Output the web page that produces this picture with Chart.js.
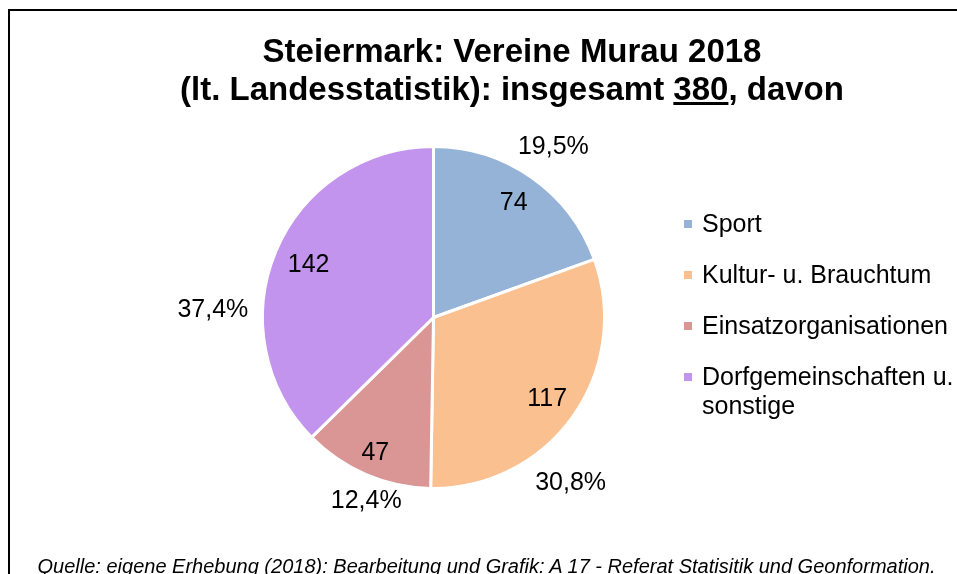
<!DOCTYPE html>
<html>
<head>
<meta charset="utf-8">
<script src="https://cdn.jsdelivr.net/npm/chart.js@4.4.0/dist/chart.umd.min.js"></script>
<style>
  body { margin: 0; background: #fff; font-family: "Liberation Sans", Arial, sans-serif; }
  #wrap { position: relative; width: 957px; height: 574px; overflow: hidden; background: #fff; }
  #frame { position: absolute; left: 8px; top: 9px; width: 1000px; height: 700px; border: 2px solid #000; box-sizing: border-box; }
  #title { position: absolute; left: 12px; width: 1000px; top: 32px; text-align: center; font-weight: bold; font-size: 33px; line-height: 38px; color: #000; }
  #legend { position: absolute; left: 684px; top: 209px; font-size: 25px; line-height: 29px; color: #000; }
  .item { position: relative; padding-left: 18px; margin-bottom: 22px; white-space: nowrap; }
  .box { position: absolute; left: 0; top: 11px; width: 8px; height: 8px; }
  #note { position: absolute; left: 0; width: 973px; top: 556px; text-align: center; font-style: italic; font-size: 20px; line-height: 20px; color: #000; white-space: nowrap; }
  canvas { position: absolute; left: 0; top: 0; }
</style>
</head>
<body>
<div id="wrap">
  <div id="frame"></div>
  <canvas id="chart" width="957" height="574"></canvas>
  <div id="title">Steiermark: Vereine Murau 2018<br>(lt. Landesstatistik): insgesamt <u>380</u>, davon</div>
  <div id="legend"></div>
  <div id="note">Quelle: eigene Erhebung (2018): Bearbeitung und Grafik: A 17 - Referat Statisitik und Geonformation.</div>
</div>
<script>
const categories = ["Sport", "Kultur- u. Brauchtum", "Einsatzorganisationen", ["Dorfgemeinschaften u.", "sonstige"]];
const vereine = [74, 117, 47, 142];
const colors = ["#95B3D7", "#FAC090", "#D99694", "#C394EE"];

const total = vereine.reduce((a, b) => a + b, 0);

// html legend
const legendEl = document.getElementById("legend");
categories.forEach((cat, i) => {
  const item = document.createElement("div");
  item.className = "item";
  const box = document.createElement("span");
  box.className = "box";
  box.style.background = colors[i];
  item.appendChild(box);
  const txt = document.createElement("span");
  txt.innerHTML = Array.isArray(cat) ? cat.join("<br>") : cat;
  item.appendChild(txt);
  legendEl.appendChild(item);
});

// value labels inside, percentages outside (excel placed some by hand)
const valueRadius = [0.81, 0.81, 0.855, 0.785];
const pctShift = [0, 14.8, -3.1, -20.8];   // degrees
const pctRadius = [1.21, 1.245, 1.135, 1.28];

const pieLabels = {
  id: "pieLabels",
  afterDatasetsDraw(chart) {
    const ctx = chart.ctx;
    const meta = chart.getDatasetMeta(0);
    ctx.save();
    ctx.fillStyle = "#000";
    ctx.font = '25px "Liberation Sans", Arial, sans-serif';
    ctx.textAlign = "center";
    ctx.textBaseline = "middle";
    meta.data.forEach((arc, i) => {
      const p = arc.getProps(["x", "y", "startAngle", "endAngle", "outerRadius"], true);
      const r = p.outerRadius + 1.5;
      const mid = (p.startAngle + p.endAngle) / 2;
      ctx.fillText(String(vereine[i]), p.x + Math.cos(mid) * r * valueRadius[i], p.y + Math.sin(mid) * r * valueRadius[i]);
      const a = mid + pctShift[i] * Math.PI / 180;
      const pct = (vereine[i] / total * 100).toFixed(1).replace(".", ",") + "%";
      ctx.fillText(pct, p.x + Math.cos(a) * r * pctRadius[i], p.y + Math.sin(a) * r * pctRadius[i]);
    });
    ctx.restore();
  }
};

new Chart(document.getElementById("chart"), {
  type: "pie",
  data: {
    labels: categories,
    datasets: [{
      data: vereine,
      backgroundColor: colors,
      borderColor: "#fff",
      borderWidth: 3
    }]
  },
  options: {
    responsive: false,
    devicePixelRatio: 1,
    animation: false,
    layout: { padding: { left: 261, top: 145, right: 351, bottom: 84 } },
    plugins: {
      legend: { display: false },
      title: { display: false },
      tooltip: { enabled: false }
    }
  },
  plugins: [pieLabels]
});
</script>
</body>
</html>
